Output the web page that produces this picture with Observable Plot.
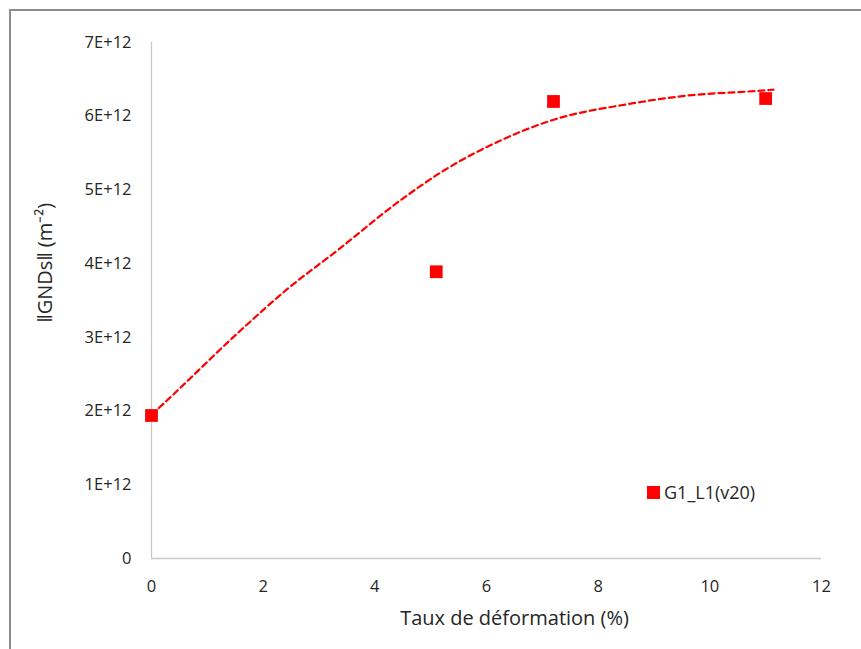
<!DOCTYPE html>
<html>
<head>
<meta charset="utf-8">
<script src="https://cdn.jsdelivr.net/npm/d3@7"></script>
<script src="https://cdn.jsdelivr.net/npm/@observablehq/plot@0.6"></script>
<style>
  html, body { margin: 0; padding: 0; background: #fff; }
  body { width: 861px; height: 649px; overflow: hidden; position: relative; font-family: "Open Sans", "Liberation Sans", sans-serif; }
  #frame { position: absolute; left: 9px; top: 9px; width: 900px; height: 700px; border-left: 2px solid #8c8c8c; border-top: 2px solid #8c8c8c; box-sizing: border-box; }
  #chart { position: absolute; left: 0; top: 0; }
  #legend { position: absolute; left: 647px; top: 480px; font-size: 18px; color: #262626; display: flex; align-items: center; }
  #legend .sw { width: 13px; height: 13px; background: #ff0000; margin-right: 4px; }
</style>
</head>
<body>
<div id="frame"></div>
<div id="chart"></div>
<div id="legend"><span class="sw"></span><span>G1_L1(v20)</span></div>
<script>
// Measured points: strain (%) and GND density (m^-2)
const strain = [0, 5.1, 7.2, 11];
const gnd = [1.94e12, 3.89e12, 6.2e12, 6.24e12];
const seriesName = "G1_L1(v20)";

// Dashed trend line
const trendX = [0, 0.215, 1.59, 2.44, 3.33, 4.46, 5.23, 6.25, 7.15, 8.58, 9.6, 10.78, 11.14];
const trendY = [1.95e12, 2.1e12, 3.09e12, 3.66e12, 4.18e12, 4.86e12, 5.26e12, 5.67e12, 5.94e12, 6.17e12, 6.28e12, 6.34e12, 6.36e12];

const xTicks = [0, 2, 4, 6, 8, 10, 12];
const yTicks = [0, 1e12, 2e12, 3e12, 4e12, 5e12, 6e12, 7e12];
const xTitle = "Taux de déformation (%)";
const yTitle = "‖GNDs‖ (m⁻²)";

const points = strain.map((x, i) => ({x, y: gnd[i], s: seriesName}));
const trend = trendX.map((x, i) => ({x, y: trendY[i]}));

const fmtY = d => d === 0 ? "0" : `${Math.round(d / 1e12)}E+12`;

const chart = Plot.plot({
  width: 861,
  height: 649,
  marginLeft: 151,
  marginRight: 40,
  marginTop: 42,
  marginBottom: 91,
  style: {fontFamily: "'Open Sans', 'Liberation Sans', sans-serif", fontSize: "16.5px", color: "#262626", background: "transparent"},
  x: {domain: [0, 12], ticks: xTicks, tickFormat: d => String(d), tickSize: 0, tickPadding: 22, label: null},
  y: {domain: [0, 7e12], ticks: yTicks, tickFormat: fmtY, tickSize: 0, tickPadding: 20, label: null},
  marks: [
    Plot.ruleX([0], {stroke: "#c8c8c8", strokeWidth: 1.3}),
    Plot.ruleY([0], {stroke: "#c8c8c8", strokeWidth: 1.3}),
    Plot.line(trend, {x: "x", y: "y", stroke: "#ff0000", strokeWidth: 2.2, strokeDasharray: "6,4", curve: "monotone-x"}),
    Plot.dot(points, {x: "x", y: "y", symbol: "square", r: 7.2, fill: "#ff0000", stroke: "none"}),
    Plot.text([xTitle], {frameAnchor: "bottom", dy: 66, dx: 28, text: d => d, fontSize: 20, fill: "#262626"}),
    Plot.text([yTitle], {frameAnchor: "left", dx: -106, dy: 22, rotate: -90, text: d => d, fontSize: 20, fill: "#262626"})
  ]
});
document.getElementById("chart").appendChild(chart);
</script>
</body>
</html>
